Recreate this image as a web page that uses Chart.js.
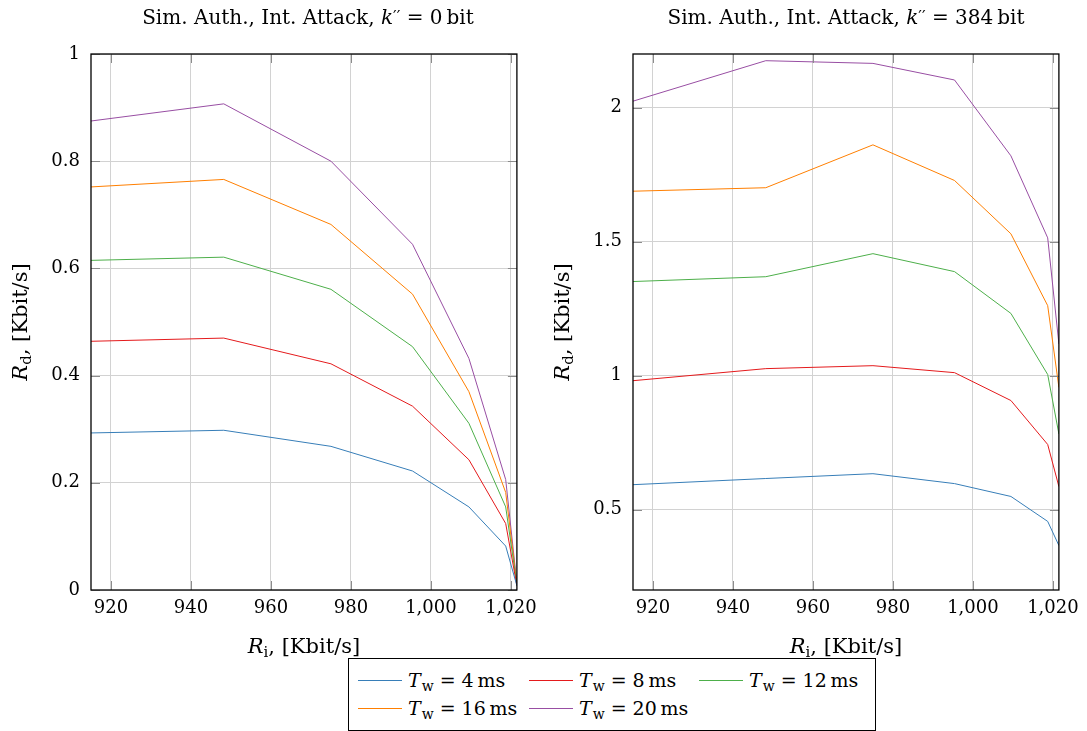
<!DOCTYPE html>
<html><head><meta charset="utf-8">
<script src="https://cdn.jsdelivr.net/npm/chart.js@4/dist/chart.umd.min.js"></script>
<style>
html,body{margin:0;padding:0;background:#fff;}
#wrap{position:relative;width:1087px;height:731px;overflow:hidden;background:#fff;}
#c1{position:absolute;left:0;top:0;}
#c2{position:absolute;left:545px;top:0;}
#legend{position:absolute;left:348px;top:658px;width:528px;height:73px;border:1px solid #000;box-sizing:border-box;background:#fff;font-family:'DejaVu Serif',serif;font-size:19px;color:#000;}
.item{position:absolute;white-space:nowrap;height:25px;line-height:25px;}
.swatch{position:absolute;left:0;top:12px;width:44px;height:1px;}
.txt{position:absolute;left:50px;top:0;}
.it{font-style:italic;}
.sub{font-size:14px;position:relative;top:4px;margin-left:1px;}
.eq{margin:0 6px;}
</style></head>
<body><div id="wrap">
<canvas id="c1" width="545" height="731"></canvas>
<canvas id="c2" width="542" height="731"></canvas>
<div id="legend"></div>
</div>
<script>
// ---------------- data ----------------
const xValues = [915, 948.2, 975, 995.4, 1009.5, 1018.7, 1021.5];
const windowMs = [4, 8, 12, 16, 20];
const seriesColors = ['#377eb8', '#e41a1c', '#4daf4a', '#ff7f00', '#984ea3'];

// k'' = 0 bit
const left4ms  = [0.293, 0.298, 0.268, 0.222, 0.155, 0.082, 0.008];
const left8ms  = [0.464, 0.470, 0.422, 0.343, 0.243, 0.124, 0.008];
const left12ms = [0.615, 0.621, 0.561, 0.454, 0.311, 0.155, 0.010];
const left16ms = [0.752, 0.766, 0.682, 0.552, 0.370, 0.182, 0.010];
const left20ms = [0.875, 0.907, 0.800, 0.645, 0.432, 0.206, 0.012];

// k'' = 384 bit
const right4ms  = [0.593, 0.616, 0.634, 0.597, 0.549, 0.456, 0.366];
const right8ms  = [0.981, 1.026, 1.037, 1.011, 0.907, 0.743, 0.586];
const right12ms = [1.351, 1.369, 1.455, 1.388, 1.232, 1.004, 0.782];
const right16ms = [1.688, 1.701, 1.861, 1.728, 1.529, 1.261, 0.956];
const right20ms = [2.024, 2.175, 2.165, 2.103, 1.820, 1.514, 1.118];

const xTicks = [920, 940, 960, 980, 1000, 1020];
const leftYTicks = [0, 0.2, 0.4, 0.6, 0.8, 1];
const rightYTicks = [0.5, 1, 1.5, 2];
const leftTitleBits = '0';
const rightTitleBits = '384';

// ---------------- drawing ----------------
const FONT = "'DejaVu Serif', serif";
const FS = 18;

function fontOf(s, base) {
  return (s.it ? 'italic ' : '') + Math.round(base * (s.scale || 1)) + 'px ' + FONT;
}
function drawRich(ctx, segs, x, y, base) {
  let total = 0;
  segs.forEach(s => { ctx.font = fontOf(s, base); s.w = ctx.measureText(s.t).width; total += s.w; });
  let cx = x - total / 2;
  ctx.textAlign = 'left';
  ctx.textBaseline = 'alphabetic';
  ctx.fillStyle = '#000';
  segs.forEach(s => { ctx.font = fontOf(s, base); ctx.fillText(s.t, cx, y + (s.dy || 0)); cx += s.w; });
}

function fmt(v) {
  return Number(v.toFixed(2)).toLocaleString('en-US');
}

function decorPlugin(cfg) {
  return {
    id: 'decor',
    afterDraw(chart) {
      const ctx = chart.ctx;
      const a = chart.chartArea;
      const xs = chart.scales.x, ys = chart.scales.y;
      ctx.save();
      // inward tick marks
      ctx.strokeStyle = '#8c8c8c';
      ctx.lineWidth = 1;
      const TL = 9;
      cfg.xTicks.forEach(v => {
        const px = Math.round(xs.getPixelForValue(v)) + 0.5;
        ctx.beginPath();
        ctx.moveTo(px, a.bottom); ctx.lineTo(px, a.bottom - TL);
        ctx.moveTo(px, a.top); ctx.lineTo(px, a.top + TL);
        ctx.stroke();
      });
      cfg.yTicks.forEach(v => {
        const py = Math.round(ys.getPixelForValue(v)) + 0.5;
        ctx.beginPath();
        ctx.moveTo(a.left, py); ctx.lineTo(a.left + TL, py);
        ctx.moveTo(a.right, py); ctx.lineTo(a.right - TL, py);
        ctx.stroke();
      });
      // frame
      ctx.strokeStyle = '#000';
      ctx.lineWidth = 1.3;
      ctx.strokeRect(a.left, a.top, a.right - a.left, a.bottom - a.top);
      // title
      const cxm = (a.left + a.right) / 2 + cfg.titleShift;
      drawRich(ctx, [
        {t: 'Sim. Auth., Int. Attack, '},
        {t: 'k', it: true},
        {t: '\u2032\u2032', scale: 0.8, dy: -2},
        {t: ' = ' + cfg.bits + '\u2009bit'}
      ], cxm, 24, 20);
      // x title
      drawRich(ctx, [
        {t: 'R', it: true},
        {t: 'i', scale: 0.72, dy: 4},
        {t: ', [Kbit/s]'}
      ], (a.left + a.right) / 2, 653, 21);
      // y title
      ctx.save();
      ctx.translate(cfg.yTitleX, (a.top + a.bottom) / 2);
      ctx.rotate(-Math.PI / 2);
      drawRich(ctx, [
        {t: 'R', it: true},
        {t: 'd', scale: 0.72, dy: 4},
        {t: ', [Kbit/s]'}
      ], 0, 0, 21);
      ctx.restore();
      ctx.restore();
    }
  };
}

function makeChart(id, cfg) {
  const datasets = cfg.series.map((vals, i) => ({
    label: 'T_w = ' + windowMs[i] + ' ms',
    data: xValues.map((x, j) => ({x: x, y: vals[j]})),
    borderColor: seriesColors[i],
    backgroundColor: seriesColors[i],
    borderWidth: 1,
    pointRadius: 0,
    tension: 0,
    fill: false
  }));
  return new Chart(document.getElementById(id), {
    type: 'line',
    data: {datasets},
    options: {
      responsive: false,
      animation: false,
      devicePixelRatio: 1,
      layout: {padding: {left: 0, right: cfg.padRight, top: 54, bottom: 0}},
      plugins: {legend: {display: false}, tooltip: {enabled: false}, title: {display: false}},
      scales: {
        x: {
          type: 'linear',
          min: xValues[0],
          max: xValues[xValues.length - 1],
          afterBuildTicks: s => { s.ticks = cfg.xTicks.map(v => ({value: v})); },
          afterFit: s => { s.height = 141; },
          grid: {color: '#d2d2d2', lineWidth: 1, drawTicks: false},
          border: {display: false},
          ticks: {
            padding: 8,
            maxRotation: 0,
            autoSkip: false,
            color: '#000',
            font: {family: FONT, size: FS},
            callback: v => fmt(v)
          }
        },
        y: {
          type: 'linear',
          min: cfg.yMin,
          max: cfg.yMax,
          afterBuildTicks: s => { s.ticks = cfg.yTicks.map(v => ({value: v})); },
          afterFit: s => { s.width = cfg.yWidth; },
          grid: {color: '#d2d2d2', lineWidth: 1, drawTicks: false},
          border: {display: false},
          ticks: {
            padding: 11,
            autoSkip: false,
            color: '#000',
            font: {family: FONT, size: FS},
            callback: v => fmt(v)
          }
        }
      }
    },
    plugins: [decorPlugin(cfg)]
  });
}

makeChart('c1', {
  series: [left4ms, left8ms, left12ms, left16ms, left20ms],
  xTicks: xTicks, yTicks: leftYTicks, yMin: 0, yMax: 1,
  yWidth: 91, padRight: 24, yTitleX: 27, bits: leftTitleBits, titleShift: 4
});
makeChart('c2', {
  series: [right4ms, right8ms, right12ms, right16ms, right20ms],
  xTicks: xTicks, yTicks: rightYTicks, yMin: 0.2, yMax: 2.2,
  yWidth: 88, padRight: 24, yTitleX: 24, bits: rightTitleBits, titleShift: 0
});

// ---------------- legend (HTML) ----------------
const legend = document.getElementById('legend');
const cols = [9, 180, 350];
const rows = [9, 37];
windowMs.forEach((ms, i) => {
  const it = document.createElement('div');
  it.className = 'item';
  it.style.left = cols[i % 3] + 'px';
  it.style.top = rows[Math.floor(i / 3)] + 'px';
  it.style.width = '160px';
  it.innerHTML = '<span class="swatch" style="background-color:' + seriesColors[i] + '"></span>' +
    '<span class="txt"><span class="it">T</span><span class="sub">w</span><span class="eq">=</span><span>' + ms + '&thinsp;ms</span></span>';
  legend.appendChild(it);
});
</script>
</body></html>
